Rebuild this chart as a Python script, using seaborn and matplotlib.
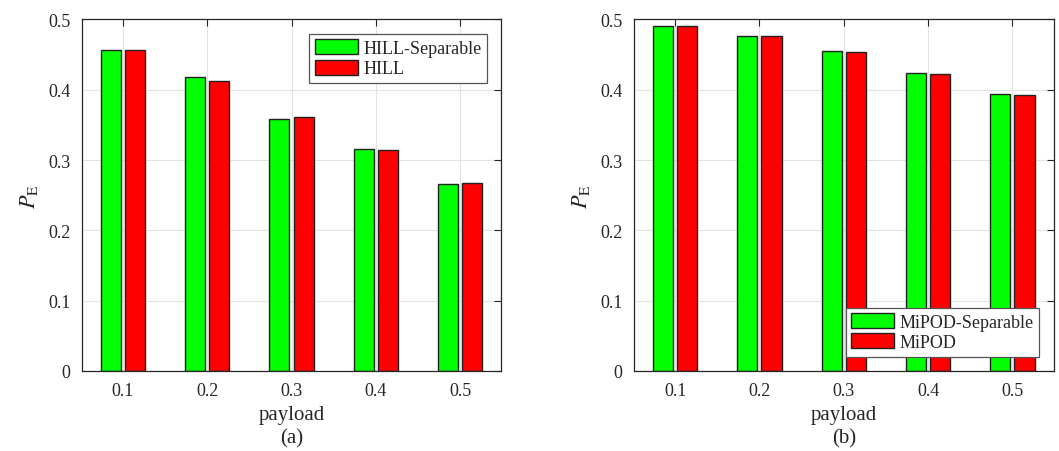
import pandas as pd
import matplotlib
matplotlib.use("Agg")
from matplotlib import pyplot as plt
import seaborn as sns

payload = ["0.1", "0.2", "0.3", "0.4", "0.5"]
hill_sep = [0.456, 0.418, 0.359, 0.315, 0.266]
hill = [0.456, 0.412, 0.361, 0.314, 0.268]
mipod_sep = [0.491, 0.477, 0.455, 0.424, 0.394]
mipod = [0.491, 0.476, 0.453, 0.422, 0.393]

sns.set_style("white")
plt.rcParams["font.family"] = ["Liberation Serif", "DejaVu Serif"]
plt.rcParams["mathtext.fontset"] = "stix"

colors = ["#00ff00", "#ff0000"]


def make_df(a, b, name_a, name_b):
    return pd.DataFrame({
        "payload": payload * 2,
        "PE": a + b,
        "method": [name_a] * len(a) + [name_b] * len(b),
    })


panels = [
    (make_df(hill_sep, hill, "HILL-Separable", "HILL"), "(a)", "upper right"),
    (make_df(mipod_sep, mipod, "MiPOD-Separable", "MiPOD"), "(b)", "lower right"),
]

fig, axes = plt.subplots(1, 2, figsize=(10.59, 4.52), dpi=100)
fig.subplots_adjust(left=0.077, right=0.995, top=0.955, bottom=0.177, wspace=0.315)

for ax, (df, tag, loc) in zip(axes, panels):
    sns.barplot(data=df, x="payload", y="PE", hue="method", palette=colors,
                width=0.575, gap=0.17, edgecolor="#222222", linewidth=1.0,
                saturation=1, ax=ax, zorder=2)
    ax.set_xlim(-0.49, 4.49)
    ax.set_ylim(0, 0.5)
    ax.set_yticks([0, 0.1, 0.2, 0.3, 0.4, 0.5])
    ax.set_yticklabels(["0", "0.1", "0.2", "0.3", "0.4", "0.5"])
    ax.grid(True, color="#e3e3e3", linewidth=0.8, zorder=0)
    ax.set_axisbelow(True)
    ax.tick_params(direction="in", top=True, right=True, length=5,
                   labelsize=13, color="#262626", pad=8)
    for s in ax.spines.values():
        s.set_color("#262626")
        s.set_linewidth(0.9)
    ax.set_xlabel("payload\n" + tag, fontsize=15, linespacing=1.3)
    ax.set_ylabel(r"$P_{\mathrm{E}}$", fontsize=16, labelpad=6)
    leg = ax.legend(loc=loc, fontsize=13, frameon=True, fancybox=False,
                    framealpha=1, handlelength=2.4, handleheight=0.9,
                    handletextpad=0.3, borderpad=0.3, labelspacing=0.15,
                    borderaxespad=0.8)
    leg.get_frame().set_edgecolor("#555555")
    leg.get_frame().set_linewidth(0.9)

fig.savefig("out.png", dpi=100)
